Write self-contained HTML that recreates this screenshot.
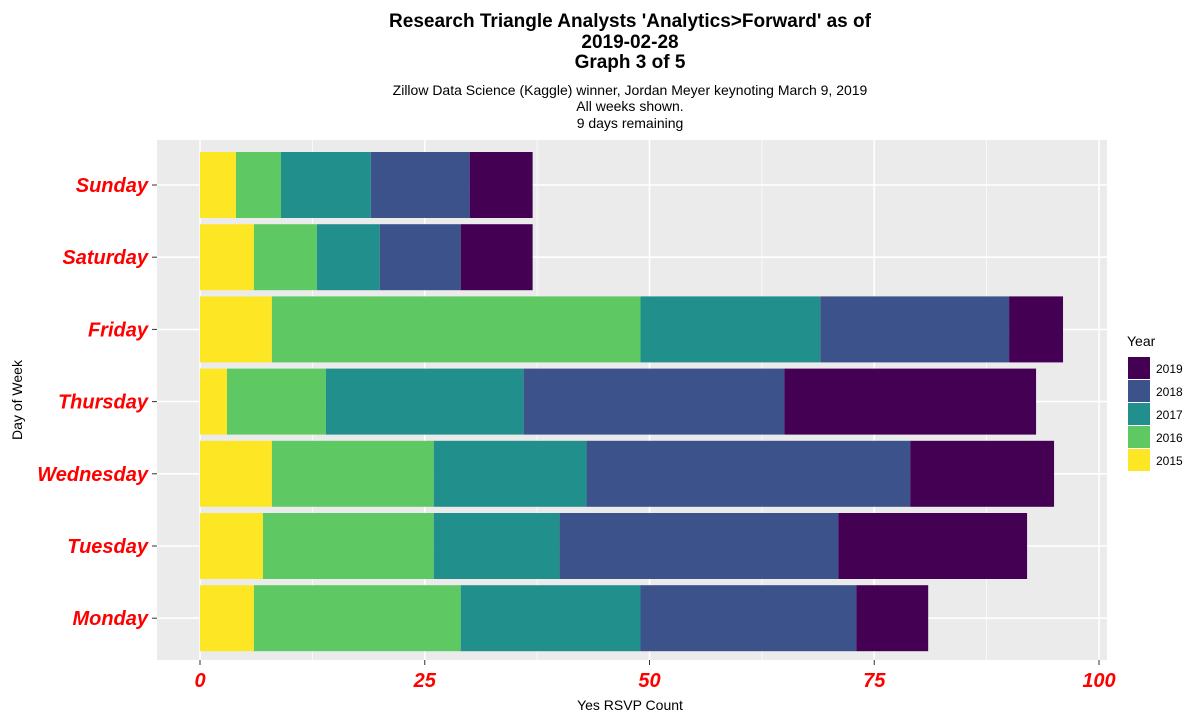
<!DOCTYPE html>
<html><head><meta charset="utf-8"><style>
body{margin:0;background:#fff;font-family:"Liberation Sans",Arial,sans-serif}
svg text{font-family:"Liberation Sans",Arial,sans-serif}
</style></head><body>
<svg id="chart" width="1200" height="720" xmlns="http://www.w3.org/2000/svg">
<g font-weight="bold" font-size="19" text-anchor="middle">
<text x="630" y="27">Research Triangle Analysts 'Analytics&gt;Forward' as of</text>
<text x="630" y="48">2019-02-28</text>
<text x="630" y="68">Graph 3 of 5</text>
</g>
<g font-size="14" text-anchor="middle">
<text x="630" y="95">Zillow Data Science (Kaggle) winner, Jordan Meyer keynoting March 9, 2019</text>
<text x="630" y="111">All weeks shown.</text>
<text x="630" y="128">9 days remaining</text>
</g>
<rect x="157" y="140" width="950" height="520" fill="#ebebeb"/>
<g id="grid"></g>
<g id="bars"></g>
<g id="yticks"></g>
<g id="xticks"></g>
<text x="630" y="710" font-size="14" text-anchor="middle">Yes RSVP Count</text>
<text x="22" y="400" font-size="14" text-anchor="middle" transform="rotate(-90 22 400)">Day of Week</text>
<g id="legend"></g>
</svg>
<script>
const days = ['Sunday','Saturday','Friday','Thursday','Wednesday','Tuesday','Monday'];
const years = ['2015','2016','2017','2018','2019'];
const v2015 = [4,6,8,3,8,7,6];
const v2016 = [5,7,41,11,18,19,23];
const v2017 = [10,7,20,22,17,14,20];
const v2018 = [11,9,21,29,36,31,24];
const v2019 = [7,8,6,28,16,21,8];
const xTicks = [0,25,50,75,100];
const colors = ['#fde725','#5ec962','#21908d','#3b528b','#440154'];
const series = [v2015,v2016,v2017,v2018,v2019];
const NS='http://www.w3.org/2000/svg';
const x = v => 200 + v*8.99;
const y = i => 185 + i*72.2;
function mk(tag, attrs, parent){const e=document.createElementNS(NS,tag);for(const k in attrs)e.setAttribute(k,attrs[k]);parent.appendChild(e);return e;}
const grid=document.getElementById('grid');
for(let t=0;t<xTicks.length-1;t++){
  const m=(xTicks[t]+xTicks[t+1])/2;
  const l=mk('line',{x1:x(m),x2:x(m),y1:140,y2:660,stroke:'#fff','stroke-width':0.7},grid);
  
  
}
xTicks.forEach(t=>{
  const l=mk('line',{x1:x(t),x2:x(t),y1:140,y2:660,stroke:'#fff','stroke-width':1.6},grid);
  
  
});
days.forEach((d,i)=>{
  const l=mk('line',{x1:157,x2:1107,y1:y(i),y2:y(i),stroke:'#fff','stroke-width':1.6},grid);
  
  
});
const bars=document.getElementById('bars');
days.forEach((d,i)=>{
  let cum=0;
  series.forEach((s,j)=>{
    const r=mk('rect',{x:x(cum),y:y(i)-33,width:x(cum+s[i])-x(cum),height:66,fill:colors[j]},bars);
    
    
    cum+=s[i];
  });
});
const yt=document.getElementById('yticks');
days.forEach((d,i)=>{
  const t=mk('text',{x:148,y:y(i)+7,'text-anchor':'end','font-size':20,'font-weight':'bold','font-style':'italic',fill:'#ff0000'},yt);
  t.textContent=d;
  
  
  const k=mk('line',{x1:152,x2:157,y1:y(i),y2:y(i),stroke:'#333'},yt);
  
  
});
const xt=document.getElementById('xticks');
xTicks.forEach(v=>{
  const t=mk('text',{x:x(v),y:687,'text-anchor':'middle','font-size':20,'font-weight':'bold','font-style':'italic',fill:'#ff0000'},xt);
  t.textContent=v;
  
  
  const k=mk('line',{x1:x(v),x2:x(v),y1:660,y2:665,stroke:'#333'},xt);
  
  
});
const lg=document.getElementById('legend');
const lt=mk('text',{x:1127,y:346,'font-size':14},lg);
lt.textContent='Year';


for(let j=4;j>=0;j--){
  const k=4-j;
  const r=mk('rect',{x:1128,y:357+k*23,width:22,height:22,fill:colors[j]},lg);
  
  
  const t=mk('text',{x:1156,y:373+k*23,'font-size':12},lg);
  t.textContent=years[j];
  
  
}
</script>
</body></html>
